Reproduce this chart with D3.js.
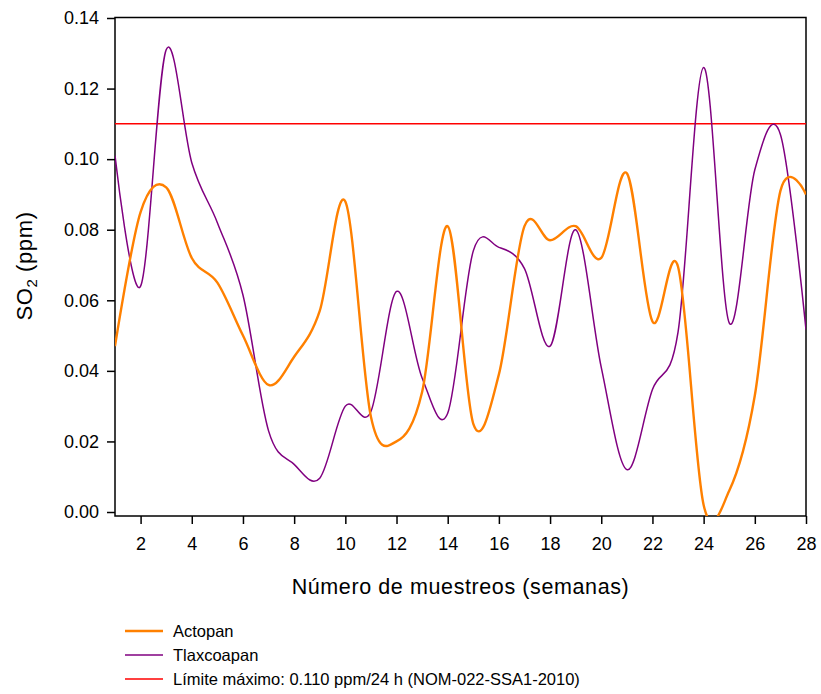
<!DOCTYPE html>
<html>
<head>
<meta charset="utf-8">
<script src="https://cdn.jsdelivr.net/npm/d3@7/dist/d3.min.js"></script>
<style>
  html, body { margin: 0; padding: 0; background: #fff; }
  svg { display: block; font-family: "Liberation Sans", Arial, sans-serif; }
</style>
</head>
<body>
<svg id="chart" width="821" height="694"></svg>
<script>
// Weekly samples (semanas 1..28)
const weeks = d3.range(1, 29);

// SO2 concentration (ppm) per station
const actopan = [
  0.047, 0.085, 0.092, 0.072, 0.065, 0.050, 0.036, 0.044, 0.057, 0.088,
  0.027, 0.020, 0.034, 0.081, 0.025, 0.039, 0.081, 0.077, 0.081, 0.072,
  0.096, 0.054, 0.0695, 0.002, 0.006, 0.033, 0.091, 0.090
];
const tlaxcoapan = [
  0.101, 0.064, 0.131, 0.099, 0.082, 0.0615, 0.023, 0.0135, 0.0096, 0.030,
  0.0285, 0.0625, 0.038, 0.028, 0.074, 0.075, 0.069, 0.047, 0.080, 0.041,
  0.012, 0.0347, 0.051, 0.126, 0.0536, 0.097, 0.107, 0.0517
];

// Maximum permissible 24 h limit
const limit = 0.110;

const yTicks = [0.00, 0.02, 0.04, 0.06, 0.08, 0.10, 0.12, 0.14];
const xTicks = d3.range(2, 29, 2);

const legendItems = [
  { label: "Actopan", color: "#ff8000", width: 2.4 },
  { label: "Tlaxcoapan", color: "#800080", width: 1.5 },
  { label: "Límite máximo: 0.110 ppm/24 h (NOM-022-SSA1-2010)", color: "#ff0000", width: 1.5 }
];

const svg = d3.select("#chart");
const plotLeft = 115, plotRight = 806, plotTop = 17.5, plotBottom = 516;

const x = d3.scaleLinear().domain([1, 28]).range([plotLeft, plotRight]);
const y = d3.scaleLinear().domain([-0.00113, 0.14]).range([plotBottom, plotTop + 0.5]);

svg.append("defs").append("clipPath").attr("id", "plot-clip")
  .append("rect").attr("x", plotLeft).attr("y", plotTop)
  .attr("width", plotRight - plotLeft).attr("height", plotBottom - plotTop);

// Frame
svg.append("rect")
  .attr("x", plotLeft).attr("y", plotTop)
  .attr("width", plotRight - plotLeft).attr("height", plotBottom - plotTop)
  .attr("fill", "none").attr("stroke", "#000").attr("stroke-width", 1.5);

const plot = svg.append("g").attr("clip-path", "url(#plot-clip)");

// Limit line
plot.append("line")
  .attr("x1", plotLeft).attr("x2", plotRight)
  .attr("y1", y(limit)).attr("y2", y(limit))
  .attr("stroke", "#ff0000").attr("stroke-width", 1.5);

const line = d3.line()
  .x((d, i) => x(weeks[i]))
  .y(d => y(d))
  .curve(d3.curveCardinal.tension(0));

plot.append("path").datum(tlaxcoapan)
  .attr("d", line).attr("fill", "none")
  .attr("stroke", "#800080").attr("stroke-width", 1.5);

plot.append("path").datum(actopan)
  .attr("d", line).attr("fill", "none")
  .attr("stroke", "#ff8000").attr("stroke-width", 2.4);

// Axes
const yAxis = d3.axisLeft(y).tickValues(yTicks).tickFormat(d3.format(".2f")).tickSize(8).tickPadding(8);
const xAxis = d3.axisBottom(x).tickValues(xTicks).tickFormat(d3.format("d")).tickSize(8).tickPadding(13);

const gy = svg.append("g").attr("transform", `translate(${plotLeft},0)`).call(yAxis);
const gx = svg.append("g").attr("transform", `translate(0,${plotBottom})`).call(xAxis);

[gy, gx].forEach(g => {
  g.select(".domain").remove();
  g.selectAll(".tick line").attr("stroke", "#000").attr("stroke-width", 1.5);
  g.selectAll(".tick text").attr("fill", "#000").attr("font-size", 18)
    .attr("font-family", "'Liberation Sans', Arial, sans-serif");
});

// Axis titles
const yTitle = svg.append("text")
  .attr("transform", `translate(32,266) rotate(-90)`)
  .attr("text-anchor", "middle")
  .attr("font-size", 22).attr("letter-spacing", 0.6).attr("fill", "#000");
yTitle.append("tspan").text("SO");
yTitle.append("tspan").attr("font-size", 15).attr("dy", 5).text("2");
yTitle.append("tspan").attr("dy", -5).text(" (ppm)");

svg.append("text")
  .attr("x", (plotLeft + plotRight) / 2).attr("y", 594)
  .attr("text-anchor", "middle")
  .attr("font-size", 21.5).attr("letter-spacing", 0.6).attr("fill", "#000")
  .text("Número de muestreos (semanas)");

// Legend
const legend = svg.append("g");
legendItems.forEach((item, i) => {
  const ly = 631 + i * 24;
  legend.append("line")
    .attr("x1", 125).attr("x2", 163).attr("y1", ly).attr("y2", ly)
    .attr("stroke", item.color).attr("stroke-width", item.width);
  legend.append("text")
    .attr("x", 173).attr("y", ly + 6)
    .attr("font-size", 16.5).attr("fill", "#000")
    .text(item.label);
});
</script>
</body>
</html>
